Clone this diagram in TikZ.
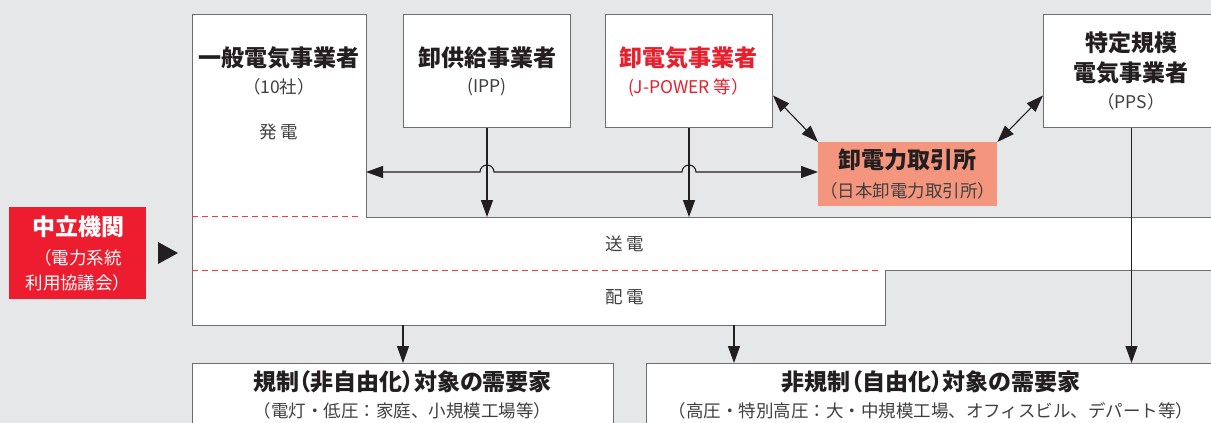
\documentclass[tikz,border=0pt]{standalone}
\usepackage{fontspec}
\setmainfont{Noto Sans CJK JP}
\newfontfamily\paltfont{Noto Sans CJK JP}[RawFeature=+palt]
\usetikzlibrary{arrows.meta}
\definecolor{bggray}{HTML}{E6E7E9}
\definecolor{edgegray}{HTML}{6D6E70}
\definecolor{ink}{HTML}{231F20}
\definecolor{subink}{HTML}{404041}
\definecolor{jepxorange}{HTML}{F4957D}
\definecolor{neutralred}{HTML}{ED1C2E}
\definecolor{textred}{HTML}{E8202E}
\definecolor{dashred}{HTML}{EF3B46}
\begin{document}
\begin{tikzpicture}[x=1pt,y=-1pt,
    every node/.style={inner sep=0pt},
    box/.style={draw=edgegray,fill=white,line width=1pt,anchor=north west},
    title/.style={text=ink,font=\fontsize{23}{26}\selectfont\bfseries},
    wide title/.style={text=ink,font=\paltfont\fontsize{23}{26}\selectfont\bfseries},
    sub/.style={text=subink,font=\fontsize{17.5}{20}\selectfont},
    wire/.style={draw=ink,line width=1.1pt},
    feed/.style={-{Triangle[length=17pt,width=12pt]}},
    trade/.style={{Triangle[length=17pt,width=12pt]}-{Triangle[length=17pt,width=12pt]}},
    border/.style={draw=dashred,line width=0.9pt,dash pattern=on 6pt off 4pt}]
    \useasboundingbox (0,0) rectangle (1211,423);
    \fill [bggray] (0,0) rectangle (1211,423);
    \clip (0,0) rectangle (1211,423);
    % generation, transmission and distribution
    \draw [fill=white,draw=edgegray,line width=1pt] (192,14) -- (366,14) -- (366,217) -- (1216,217)
        -- (1216,270) -- (885,270) -- (885,325) -- (192,325) -- cycle;
    \draw [border] (192,216) -- (362,216);
    \draw [border] (192,270) -- (881,270);
    \coordinate (gen) at (366,172);
    \coordinate (sendtop) at (0,217);
    \coordinate (distout) at (734,325);
    \coordinate (distbot) at (0,325);
    \node [title] (gen-title) at (279,57.5) {一般電気事業者};
    \node [sub] (gen-sub) at (279,87) {（10社）};
    \node [sub] (gen-part) at (279,132) {発 電};
    \node [sub] (send) at (625,244) {送 電};
    \node [sub] (dist) at (625,297) {配 電};
    % suppliers
    \node [box,minimum width=167pt,minimum height=113pt] (ipp) at (403,14) {};
    \node [title] (ipp-title) at (487,57.5) {卸供給事業者};
    \node [sub] (ipp-sub) at (487,87.5) {(IPP)};
    \node [box,minimum width=167pt,minimum height=113pt] (jpower) at (605,14) {};
    \node [title,text=textred] (jpower-title) at (688.5,57.5) {卸電気事業者};
    \node [sub,text=textred] (jpower-sub) at (688.5,87.5) {(J-POWER 等）};
    \node [box,minimum width=176pt,minimum height=113pt] (pps) at (1043,14) {};
    \node [title] (pps-title1) at (1131,42.5) {特定規模};
    \node [title] (pps-title2) at (1131,73) {電気事業者};
    \node [sub] (pps-sub) at (1131,102) {（PPS）};
    % exchange
    \node [anchor=north west,fill=jepxorange,minimum width=179pt,minimum height=64pt] (jepx) at (818,142) {};
    \node [title] (jepx-title) at (907.5,160) {卸電力取引所};
    \node [sub] (jepx-sub) at (907.5,190.5) {（日本卸電力取引所）};
    % neutral body
    \node [anchor=north west,fill=neutralred,minimum width=137pt,minimum height=92pt] (neutral) at (9,207) {};
    \node [title,text=white] (neutral-title) at (78,227) {中立機関};
    \node [sub,text=white] (neutral-sub1) at (78,258) {（電力系統};
    \node [sub,text=white] (neutral-sub2) at (78,283) {利用協議会）};
    \fill [ink] (158,242) -- (178,253) -- (158,264) -- cycle;
    % customers
    \node [box,minimum width=421pt,minimum height=80pt] (reg) at (192,363) {};
    \node [wide title] (reg-title) at (402.5,382) {規制（非自由化）対象の需要家};
    \node [sub] (reg-sub) at (402.5,411) {（電灯・低圧：家庭、小規模工場等）};
    \node [box,minimum width=570pt,minimum height=80pt] (free) at (646,363) {};
    \node [wide title] (free-title) at (931,382) {非規制（自由化）対象の需要家};
    \node [sub] (free-sub) at (931,411) {（高圧・特別高圧：大・中規模工場、オフィスビル、デパート等）};
    % connectors
    \draw [wire,trade] (jepx.west |- gen) -- ([xshift=7pt]jpower.south |- gen)
        arc [start angle=0,end angle=180,radius=7pt] -- ([xshift=7pt]ipp.south |- gen)
        arc [start angle=0,end angle=180,radius=7pt] -- (gen);
    \draw [wire,feed] (ipp.south) -- (ipp.south |- sendtop);
    \draw [wire,feed] (jpower.south) -- (jpower.south |- sendtop);
    \draw [wire,trade] ([yshift=-24.5pt]jpower.east) -- (jepx.north west);
    \draw [wire,trade] (jepx.north east) -- ([yshift=-24.5pt]pps.west);
    \draw [wire,feed] (pps.south) -- (pps.south |- free.north);
    \draw [wire,feed] (reg.north |- distbot) -- (reg.north);
    \draw [wire,feed] (distout) -- (distout |- free.north);
\end{tikzpicture}
\end{document}
